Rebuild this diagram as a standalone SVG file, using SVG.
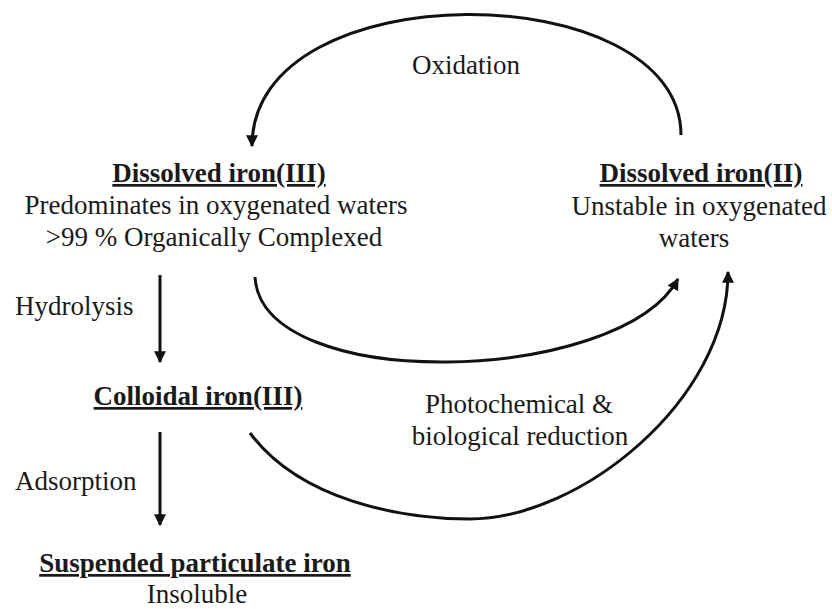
<svg xmlns="http://www.w3.org/2000/svg" width="832" height="609" viewBox="0 0 832 609">
<style>
text{font-family:"Liberation Serif","Times New Roman",serif;font-size:27px;fill:#1a1a1a;text-anchor:middle}
.h{font-weight:bold;text-decoration:underline}
.l{text-anchor:start}
.c{fill:none;stroke:#111;stroke-width:3}
</style>
<defs>
<marker id="ah" viewBox="0 0 10 10" refX="9" refY="5" markerWidth="4" markerHeight="4" orient="auto" markerUnits="strokeWidth">
<path d="M0,0 L10,5 L0,10 Z" fill="#111"/>
</marker>
</defs>
<rect width="832" height="609" fill="#fff"/>
<g id="connectors">
<path class="c" d="M681 135 C681 -25 252 -30 252 146" marker-end="url(#ah)"/>
<path class="c" d="M255 277 C262 395 620 385 678 279" marker-end="url(#ah)"/>
<path class="c" d="M250 433 C300 500 400 519 470 519 C580 519 728 400 728 272" marker-end="url(#ah)"/>
<path class="c" d="M160 275 L160 362" marker-end="url(#ah)"/>
<path class="c" d="M160 432 L160 525" marker-end="url(#ah)"/>
</g>
<g id="fe3">
<text class="h" x="219" y="182">Dissolved iron(III)</text>
<text x="216" y="214">Predominates in oxygenated waters</text>
<text x="214" y="246">&gt;99 % Organically Complexed</text>
</g>
<g id="fe2">
<text class="h" x="701" y="182">Dissolved iron(II)</text>
<text x="699" y="215">Unstable in oxygenated</text>
<text x="694" y="247">waters</text>
</g>
<g id="colloidal">
<text class="h" x="198" y="405">Colloidal iron(III)</text>
</g>
<g id="particulate">
<text class="h" x="195" y="572">Suspended particulate iron</text>
<text x="197" y="603">Insoluble</text>
</g>
<g id="labels">
<text x="466" y="74">Oxidation</text>
<text class="l" x="15" y="315">Hydrolysis</text>
<text class="l" x="15" y="490">Adsorption</text>
<text x="519" y="413">Photochemical &amp;</text>
<text x="520" y="445">biological reduction</text>
</g>
</svg>
